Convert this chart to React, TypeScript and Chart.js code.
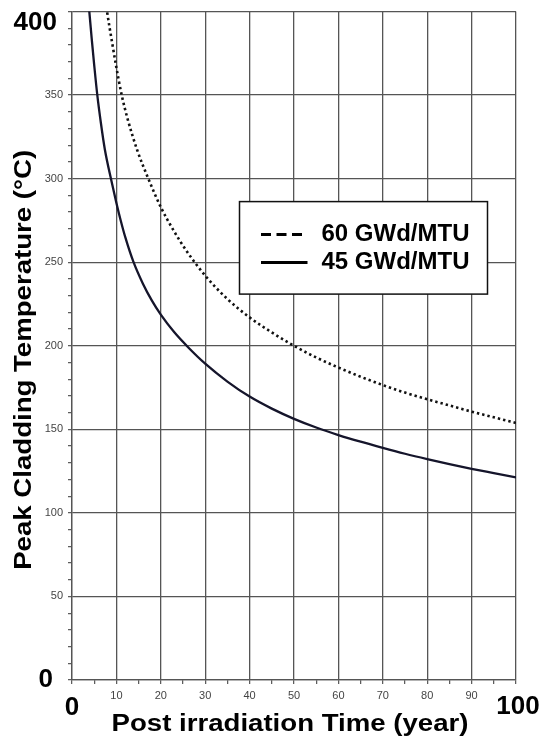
import { useEffect, useRef } from 'react';
import { Chart, registerables } from 'chart.js';

Chart.register(...registerables);

// ---- data ----
const seriesLabels = ['60 GWd/MTU', '45 GWd/MTU'];

const years60 = [7.6, 7.9, 9, 10, 11.2, 12.5, 14.7, 17.2, 20, 23, 26, 30, 35, 40, 45, 50, 55, 60, 65, 70, 75, 80, 85, 90, 95, 100];
const temps60 = [406, 400, 382, 366.5, 350, 336, 317, 300, 283, 268.5, 256, 242, 228, 217, 208, 200, 193, 187, 181.5, 176.5, 172, 168, 164.3, 160.6, 157.2, 153.8];

const years45 = [3.7, 3.9, 4.5, 5, 5.7, 6.5, 7.4, 8.9, 10, 11, 12, 13.8, 16, 18, 20, 23, 26.2, 30, 35, 40, 45, 50, 55, 60, 65, 70, 75, 80, 85, 90, 95, 100];
const temps45 = [407, 400, 382, 368, 350, 333.5, 317.5, 298.5, 285.5, 274.7, 265, 250.5, 237, 227, 218.6, 208.2, 199, 189.3, 178.6, 169.6, 162.4, 156.3, 151.1, 146.6, 142.6, 138.9, 135.4, 132.2, 129.2, 126.4, 123.8, 121.2];

const yTickLabels = [50, 100, 150, 200, 250, 300, 350];
const xTickLabels = [10, 20, 30, 40, 50, 60, 70, 80, 90];
const yBigLabels = [400, 0];
const xBigLabels = [0, 100];

const yTitle = 'Peak Cladding Temperature (°C)';
const xTitle = 'Post irradiation Time (year)';

const FONT = '"Liberation Sans", Arial, Helvetica, sans-serif';
const GRID = '#555555';

const toPoints = (xs: number[], ys: number[]) => xs.map((x, i) => ({ x, y: ys[i] }));

const decorPlugin = {
  id: 'decor',
  afterDraw(chart: any) {
    const { ctx, chartArea, scales } = chart;
    const xs = scales.x;
    const ys = scales.y;
    ctx.save();
    ctx.fillStyle = '#000';
    // big corner tick labels
    ctx.font = `bold 26px ${FONT}`;
    ctx.textBaseline = 'middle';
    ctx.textAlign = 'right';
    ctx.fillText(String(yBigLabels[0]), chartArea.left - 15, ys.getPixelForValue(yBigLabels[0]) + 11);
    ctx.fillText(String(yBigLabels[1]), chartArea.left - 19, ys.getPixelForValue(yBigLabels[1]));
    ctx.textAlign = 'center';
    ctx.fillText(String(xBigLabels[0]), xs.getPixelForValue(xBigLabels[0]), chartArea.bottom + 28);
    ctx.fillText(String(xBigLabels[1]), xs.getPixelForValue(xBigLabels[1]) + 2, chartArea.bottom + 27);

    // axis titles (the reference type is a little wider than Arial)
    ctx.font = `bold 23px ${FONT}`;
    ctx.textAlign = 'center';
    ctx.textBaseline = 'middle';
    ctx.save();
    ctx.translate((chartArea.left + chartArea.right) / 2 - 4, chartArea.bottom + 45);
    ctx.scale(1.2, 1);
    ctx.fillText(xTitle, 0, 0);
    ctx.restore();
    ctx.save();
    ctx.translate(25, (chartArea.top + chartArea.bottom) / 2 + 14);
    ctx.rotate(-Math.PI / 2);
    ctx.scale(1.2, 1);
    ctx.fillText(yTitle, 0, 0);
    ctx.restore();

    // legend box
    const bx = chartArea.left + 167.5;
    const by = chartArea.top + 190;
    const bw = 248;
    const bh = 92.5;
    ctx.fillStyle = '#ffffff';
    ctx.fillRect(bx, by, bw, bh);
    ctx.strokeStyle = '#111';
    ctx.lineWidth = 1.5;
    ctx.strokeRect(bx, by, bw, bh);

    const rows = [by + 33, by + 61];
    chart.data.datasets.forEach((ds: any, i: number) => {
      const y = rows[i];
      ctx.beginPath();
      ctx.strokeStyle = '#000';
      ctx.lineWidth = 3;
      ctx.setLineDash(ds.borderDash && ds.borderDash.length ? [10, 5.5] : []);
      ctx.moveTo(bx + 21.5, y);
      ctx.lineTo(bx + 68, y);
      ctx.stroke();
      ctx.setLineDash([]);
      ctx.fillStyle = '#000';
      ctx.font = `bold 24px ${FONT}`;
      ctx.textAlign = 'left';
      ctx.textBaseline = 'middle';
      ctx.fillText(ds.label, bx + 82, y);
    });
    ctx.restore();
  },
};

export default function App() {
  const ref = useRef<HTMLCanvasElement | null>(null);

  useEffect(() => {
    if (!ref.current) return;
    const chart = new Chart(ref.current, {
      type: 'line',
      data: {
        datasets: [
          {
            label: seriesLabels[0],
            data: toPoints(years60, temps60),
            borderColor: '#111111',
            borderWidth: 2.6,
            borderDash: [2.4, 3],
            pointRadius: 0,
            cubicInterpolationMode: 'monotone',
            fill: false,
          },
          {
            label: seriesLabels[1],
            data: toPoints(years45, temps45),
            borderColor: '#15152b',
            borderWidth: 2.3,
            pointRadius: 0,
            cubicInterpolationMode: 'monotone',
            fill: false,
          },
        ],
      },
      options: {
        animation: false,
        responsive: true,
        maintainAspectRatio: false,
        layout: { padding: { top: 10, right: 28, left: 0, bottom: 0 } },
        plugins: {
          legend: { display: false },
          tooltip: { enabled: false },
          title: { display: false },
        },
        scales: {
          x: {
            type: 'linear',
            min: 0,
            max: 100,
            afterFit: (s: any) => {
              s.height = 67;
            },
            ticks: {
              stepSize: 5,
              autoSkip: false,
              maxRotation: 0,
              padding: 5,
              color: '#444',
              font: { family: FONT, size: 11 },
              callback: (v: any) => (xTickLabels.includes(Number(v)) ? String(v) : ''),
            },
            grid: {
              color: (c: any) => (c.tick && c.tick.value % 10 === 0 ? GRID : 'rgba(0,0,0,0)'),
              lineWidth: 1.3,
              tickColor: GRID,
              tickLength: 4,
              tickWidth: 1.2,
              drawTicks: true,
            },
            border: { display: true, color: GRID, width: 1.3 },
          },
          y: {
            type: 'linear',
            min: 0,
            max: 400,
            afterFit: (s: any) => {
              s.width = 72;
            },
            ticks: {
              stepSize: 10,
              autoSkip: false,
              padding: 5,
              color: '#444',
              font: { family: FONT, size: 11 },
              callback: (v: any) => (yTickLabels.includes(Number(v)) ? String(v) : ''),
            },
            grid: {
              color: (c: any) => (c.tick && c.tick.value % 50 === 0 ? GRID : 'rgba(0,0,0,0)'),
              lineWidth: 1.3,
              tickColor: GRID,
              tickLength: 4,
              tickWidth: 1.2,
              drawTicks: true,
            },
            border: { display: true, color: GRID, width: 1.3 },
          },
        },
      },
      plugins: [decorPlugin],
    } as any);
    return () => chart.destroy();
  }, []);

  return (
    <div style={{ position: 'fixed', left: 0, top: 0, width: 544, height: 747, background: '#fff' }}>
      <canvas ref={ref} />
    </div>
  );
}
